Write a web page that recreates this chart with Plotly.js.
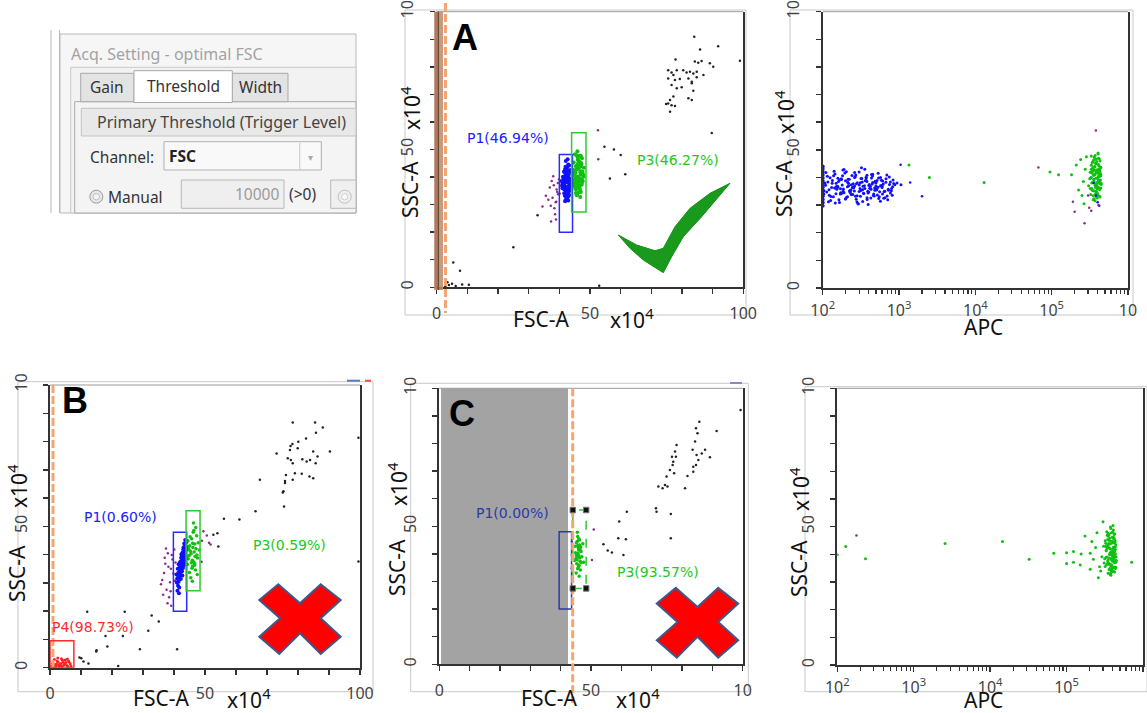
<!DOCTYPE html>
<html>
<head>
<meta charset="utf-8">
<script src="https://cdn.plot.ly/plotly-3.0.1.min.js"></script>
<style>html,body{margin:0;padding:0;background:#fff;}#chart{width:1147px;height:713px;}</style>
</head>
<body>
<div id="chart"></div>
<script>
// ===== Panel A: FSC-A vs SSC-A (x10^4), optimal FSC threshold =====
const aP1X = [42.1,43.0,41.6,42.8,43.5,42.4,41.9,43.2,42.7,41.3,43.8,42.0,42.9,41.7,43.4,42.5,41.1,43.1,42.2,43.7,41.5,42.6,43.3,42.3,41.8,43.6,42.9,41.4,42.0,43.0,42.6,41.9,43.9,42.4,41.2,43.2,42.7,41.6,43.5,42.1,42.8,41.0,43.3,42.5,41.7,43.8,42.2,43.0,41.5,42.9,43.6,42.3,41.8,43.1,42.6,40.8,43.4,42.0,41.3,42.7,
  41.4,42.2,43.1,41.8,42.6,43.5,41.1,42.0,42.9,43.8,41.6,42.4,43.3,40.9,41.9,42.7,43.6,41.3,42.3,43.2,41.7,42.5,43.9,41.0,42.1,43.0,41.5,42.8,43.4,42.0];
const aP1Y = [36.2,38.5,34.1,41.0,37.3,33.8,39.6,35.4,42.3,37.9,36.8,40.4,32.9,38.1,35.0,43.5,36.5,39.2,34.6,41.7,38.8,33.2,37.0,40.9,35.8,38.3,44.6,36.9,31.7,39.9,34.3,42.8,37.6,35.1,40.0,33.5,38.9,36.1,41.4,45.8,35.6,37.4,39.4,32.4,42.0,36.6,34.9,40.6,38.0,31.5,37.8,43.1,36.3,39.0,34.7,38.6,35.3,41.2,37.2,46.5,
  39.3,36.0,41.6,33.2,38.0,35.1,37.5,42.9,33.9,39.0,35.5,40.7,37.1,38.4,31.2,36.4,42.6,40.1,32.7,44.2,37.0,34.5,36.7,35.9,39.8,33.3,41.9,35.7,38.3,43.7];
const aP3X = [45.6,46.3,44.9,47.1,45.2,46.8,45.9,44.5,47.5,46.0,45.4,46.6,47.8,45.0,46.2,44.7,47.0,45.7,46.4,45.1,47.3,46.9,44.4,45.8,46.5,47.6,45.3,46.1,44.8,47.2,45.5,46.7,48.0,45.9,46.3,44.6,47.4,45.0,46.0,46.8,45.6,47.0,44.3,46.4,45.2,47.7,46.1,45.8,46.9,45.4,
  45.3,46.5,47.2,45.8,46.9,44.7,46.2,47.6,45.5,46.6,45.1,47.0,46.3,45.7,47.4,44.9,46.0,46.8,45.4,47.9];
const aP3Y = [40.2,43.1,37.8,45.0,39.5,41.8,36.4,42.6,38.9,47.2,35.5,44.3,40.8,38.1,46.1,41.2,34.6,42.9,39.0,48.3,37.2,43.8,40.5,33.9,45.6,38.5,41.5,44.9,36.9,42.1,39.8,35.8,43.4,49.4,40.0,38.3,46.8,42.4,37.5,32.8,44.0,39.3,41.0,47.6,36.1,40.7,43.0,38.7,45.3,34.2,
  42.4,38.3,44.6,36.2,40.9,45.3,34.4,41.9,48.0,36.8,39.2,47.7,44.0,33.4,38.0,41.4,46.3,35.0,43.9,40.2];
const aPurX = [38.2,39.1,37.5,39.6,38.8,36.9,39.9,38.4,37.8,40.2,39.3,38.0,36.4,39.5,38.6,37.2,35.6,39.0,38.9,40.1,52.6,52.7,37.3,34.5];
const aPurY = [37.0,35.5,38.6,33.8,30.9,36.2,39.2,28.7,32.5,36.8,34.6,40.3,31.8,37.8,26.5,29.6,33.2,31.0,24.6,34.0,57.0,46.5,23.9,29.3];
const aOtherX = [84.0,85.9,91.8,98.9,77.9,84.2,85.3,86.4,89.1,90.2,75.5,76.6,77.2,78.3,80.4,81.5,82.6,83.7,84.8,87.0,75.5,77.7,79.3,82.1,83.2,84.8,76.6,78.3,79.9,83.2,83.7,77.2,76.1,75.5,76.6,77.7,82.1,83.2,76.1,74.8,54.7,57.8,60.0,61.5,56.5,89.7,32.9,25.0,7.6,5.4,53.0,4.0,6.2,8.3,10.5,3.5,2.8,5.0];
const aOtherY = [90.9,86.3,87.5,82.2,82.7,81.9,81.5,82.1,81.3,80.0,78.8,77.9,77.0,78.8,78.8,77.9,78.2,77.6,78.2,77.0,75.8,75.2,75.6,75.8,74.6,76.2,73.4,72.2,72.6,74.0,71.3,69.2,68.0,66.7,66.1,65.8,68.6,68.0,63.7,66.5,51.0,50.0,48.0,41.0,39.5,56.0,26.1,14.5,6.0,9.0,0.6,0.8,0.5,1.0,0.9,1.8,0.4,1.3];
const aGateP1 = [40.0, 44.3, 20.0, 48.2];   // x0, x1, y0, y1
const aGateP3 = [44.0, 48.7, 27.3, 56.1];
const aLabels = ['P1(46.94%)', 'P3(46.27%)'];

// ===== Panel A, right: APC vs SSC-A =====
const apcABlueX = [104,117,128,139,151,163,176,190,204,219,236,252,271,290,311,333,356,381,407,436,466,498,533,570,610,652,698,746,798,853,
  110,122,133,146,158,171,184,198,213,229,244,262,281,301,322,345,369,394,421,451,482,515,551,590,631,675,722,772,825,940,
  1060,143,260,380,
  158,176,199,224,251,283,318,357,402,452,508,571,166,187,211,237,267,300,338,380,427,480,540,607,150,182,230,275,330,390,445,520,600,172,215,262,312,370,430,495,
  103,109,115,121,127,134,141,149,157,166,175,185,195,206,217,229,242,255,269,284,300,316,334,352,372,392,414,437,461,487,514,542,572,604,638,673,711,750,792,836,
  107,113,119,125,131,138,145,153,161,170,180,190,200,211,223,235,248,262,277,292,308,325,343,362,382,403,425,449,474,500,528,557,588,621,655,692,730,771,814,880];
const apcABlueY = [35.2,38.4,33.1,40.6,36.7,31.9,39.3,34.5,42.1,37.0,33.8,36.3,40.9,30.6,38.1,35.6,43.0,32.7,37.5,39.8,34.0,36.9,41.5,31.4,38.7,35.0,33.3,40.2,36.0,37.8,
  41.8,33.6,37.9,30.8,39.7,35.9,42.7,32.2,38.3,34.8,36.4,40.0,31.1,37.3,43.5,34.2,39.1,30.2,36.8,41.2,35.4,38.9,33.0,37.1,32.5,39.5,35.7,34.4,36.6,38.0,
  37.4,36.2,35.1,40.8,
  36.5,34.2,38.8,35.1,37.7,33.4,39.6,36.0,34.7,38.2,35.5,37.0,39.1,35.8,33.0,37.4,40.3,34.9,36.8,38.5,32.6,36.2,39.8,34.0,37.9,40.6,35.4,32.1,38.4,35.0,37.6,33.7,36.4,34.5,39.4,36.9,33.2,40.1,35.7,38.0,
  33.9,37.2,40.4,35.6,31.7,38.9,42.3,34.1,36.8,30.9,39.5,35.0,41.6,32.8,37.9,34.6,40.7,36.3,33.2,38.1,42.0,35.3,31.3,37.0,39.8,34.4,36.1,41.1,33.5,38.6,35.8,32.4,40.0,36.9,34.9,38.3,31.9,37.5,35.2,39.1,
  38.0,34.7,31.2,39.9,36.4,33.0,41.3,35.7,38.5,34.0,37.3,42.9,32.3,36.6,39.4,35.5,33.8,41.8,37.7,30.4,36.0,39.6,34.3,38.8,32.0,37.1,35.9,40.5,33.3,38.2,36.5,34.8,39.0,37.6,32.7,40.9,35.4,38.4,33.6,37.4];
const apcAEdgeX = [100,100,100,100,100,100,100,100,100,100,100,100,100,100];
const apcAEdgeY = [29.8,30.9,32.0,33.2,34.3,35.4,36.5,37.6,38.7,39.8,40.9,42.0,43.1,44.0];
const apcAGreenX = [3.3e5,3.5e5,3.7e5,3.9e5,4.1e5,4.3e5,3.4e5,3.6e5,3.8e5,4.0e5,4.2e5,4.4e5,3.25e5,3.45e5,3.65e5,3.85e5,4.05e5,4.25e5,3.55e5,3.75e5,3.95e5,4.15e5,4.35e5,3.35e5,3.6e5,3.8e5,4.0e5,4.2e5,3.7e5,3.9e5,4.1e5,3.5e5,4.45e5,3.15e5,4.3e5,3.65e5,3.85e5,4.05e5,3.4e5,4.2e5,
  3.05e5,3.55e5,3.75e5,3.95e5,4.15e5,3.3e5,3.6e5,3.9e5,4.1e5,4.4e5,3.45e5,3.8e5,4.0e5,3.7e5,4.25e5,3.5e5,3.85e5,4.35e5,3.2e5,4.05e5,
  3.2e5,3.4e5,3.6e5,3.8e5,4.0e5,4.2e5,4.4e5,3.3e5,3.5e5,3.7e5,3.9e5,4.1e5,4.3e5,3.25e5,3.55e5,3.85e5,4.15e5,4.45e5,3.45e5,3.75e5,4.05e5,4.35e5,3.35e5,3.65e5,3.95e5,4.25e5,3.5e5,3.8e5,4.1e5,4.4e5,3.4e5,3.7e5,4.0e5,4.3e5,3.6e5,3.9e5,4.2e5,3.3e5,3.8e5,4.1e5,
  1350,2500,13000,95000,123000,182000,210000,240000,260000,225000,275000,250000,285000,265000];
const apcAGreenY = [40.1,43.6,37.2,45.8,38.9,42.0,35.4,47.3,39.7,36.6,44.1,41.2,33.8,38.3,42.7,34.9,48.5,37.8,40.8,45.2,32.6,43.0,39.1,36.0,46.4,41.7,34.2,38.6,43.9,36.9,40.4,31.9,37.5,39.5,46.0,35.1,42.3,44.7,41.5,33.3,
  37.0,39.4,34.0,42.8,36.3,44.4,32.3,38.1,47.0,40.6,45.7,36.7,39.9,48.0,35.6,42.5,33.1,43.4,41.9,38.4,
  36.0,42.2,38.7,45.0,33.6,40.3,43.7,47.8,35.2,41.1,37.4,44.6,32.9,39.8,46.2,34.7,41.6,37.9,43.3,36.4,48.9,40.8,38.0,44.0,35.9,42.7,33.4,46.7,39.2,36.2,45.3,31.6,42.0,38.9,40.9,34.4,46.8,43.0,37.6,41.4,
  44.5,40.0,38.2,42.0,41.0,41.0,44.5,46.5,38.5,35.5,43.0,33.5,47.5,30.5];
const apcABlueOutX = [1400,2000,1050,380000,400000,355000,420000];
const apcABlueOutY = [38.2,33.2,44.6,33.5,31.0,38.0,29.8];
const apcAPurX = [67000,190000,200000,270000,380000,310000,330000,300000,410000];
const apcAPurY = [43.6,31.2,27.6,23.4,57.0,29.0,28.0,33.5,30.0];

// ===== Panel B: threshold too low =====
const bP1X = [41.0,41.6,42.1,42.7,43.2,41.3,41.9,42.4,43.0,43.6,40.8,41.5,42.0,42.6,43.3,43.9,41.2,41.8,42.3,42.9,43.5,44.0,40.9,41.4,42.2,42.8,43.4,41.7,42.5,43.1,43.7,41.1,42.0,42.6,43.2,43.8,41.5,42.3,43.0,42.7,41.3,42.1,42.9,43.6,41.9,42.4,43.3,41.6,42.8,43.5];
const bP1Y = [31.5,35.2,33.8,38.4,41.0,29.0,37.1,36.0,39.6,43.2,33.0,30.4,35.9,34.1,37.8,41.7,35.0,32.3,38.9,36.7,40.2,44.5,30.1,33.6,31.4,40.8,38.6,28.4,37.3,42.6,39.4,27.2,33.0,39.8,36.2,42.3,36.6,34.7,41.9,32.6,31.9,37.6,35.3,45.2,34.4,40.1,43.9,26.3,38.0,36.9];
const bP3X = [44.6,45.3,46.0,46.7,47.4,45.0,45.7,46.4,47.1,44.3,45.5,46.2,46.9,47.8,44.8,45.9,46.6,47.3,45.1,45.8,46.5,47.6,44.5,45.4,46.1,46.8,47.0,45.6,46.3,44.9,47.5,45.2,46.0,46.7,48.2,44.7,45.9,46.4];
const bP3Y = [38.5,41.2,35.9,43.8,39.9,33.7,45.6,37.4,42.1,36.5,40.3,47.9,34.6,44.2,41.8,38.0,36.2,46.7,43.1,35.2,40.9,38.8,44.9,31.8,42.5,39.3,49.6,37.1,51.2,39.7,33.0,46.3,44.0,36.8,41.6,42.8,30.6,48.5];
const bPurX = [38.0,37.2,39.5,36.8,38.7,40.1,37.6,39.0,36.2,38.4,40.5,37.9,39.8,35.8,38.9,37.0,39.3,36.5,38.2,40.3,37.4,39.1,49.5,50.6,51.3,49.0,51.8,48.9];
const bPurY = [40.5,36.8,38.3,33.5,30.2,41.8,27.6,35.0,31.0,24.9,37.2,22.8,33.3,29.5,27.0,38.9,39.9,25.8,35.7,30.8,42.2,21.9,48.3,46.8,44.2,44.9,43.6,37.5];
const bP4X = [0.5,1.2,1.9,2.6,3.3,4.0,4.7,5.4,6.1,6.8,0.9,1.6,2.3,3.0,3.7,4.4,5.1,5.8,6.5,1.4,2.8,3.5,4.9,5.6,2.0,3.9,1.0,6.0,4.2,2.5];
const bP4Y = [0.4,1.1,0.7,1.9,0.5,2.6,1.3,0.8,2.1,0.6,1.6,0.3,2.4,1.0,3.2,0.9,1.8,0.4,1.4,2.9,0.6,1.5,2.7,3.1,1.2,0.5,0.9,2.4,1.9,3.4];
const bOtherX = [78.3,85.5,88.0,85.8,82.6,80.1,78.2,77.6,79.9,73.1,77.4,76.7,77.7,78.3,81.4,82.8,83.9,86.3,90.3,84.9,85.7,76.1,79.0,75.8,81.2,83.7,84.9,75.3,75.8,75.1,78.3,67.7,75.5,99.5,99.5,56.1,61.1,66.3,54.0,54.3,52.7,32.8,31.7,35.1,24.1,12.0,17.9,18.5,15.0,29.0,41.0,22.0,12.4,9.5,23.5,10.1,10.8,14.9];
const bOtherY = [86.7,86.7,85.0,83.1,81.1,79.9,79.1,78.4,77.6,75.8,77.0,74.1,73.5,72.3,73.7,72.9,73.5,74.7,76.5,76.5,72.3,68.2,68.8,66.0,68.6,67.6,67.0,62.4,65.3,62.0,66.5,66.5,57.0,81.3,37.6,52.7,52.4,55.3,47.6,42.9,47.0,18.5,13.1,16.3,19.8,19.8,11.2,7.5,6.2,6.5,6.5,0.6,1.5,3.6,11.2,3.3,2.2,5.7];
const bGateP1 = [39.8, 44.1, 20.0, 47.9];
const bGateP3 = [43.9, 48.4, 27.2, 55.5];
const bGateP4 = [0.0, 7.7, 0.0, 9.5];
const bLabels = ['P1(0.60%)', 'P3(0.59%)', 'P4(98.73%)'];

// ===== Panel C: threshold too high =====
const cP3X = [45.2,45.8,46.4,45.5,46.1,46.7,45.0,45.6,46.2,47.0,45.3,45.9,46.5,44.8,45.4,46.0,46.8,45.1,45.7,46.3,47.3,45.5,46.1,44.9,45.8,46.6,45.2,46.0,47.6,45.6,46.4,45.3,45.9,46.2,44.6,45.7];
const cP3Y = [39.5,42.1,37.3,44.6,35.8,40.9,38.2,46.3,43.2,39.0,36.4,41.4,34.2,42.8,37.9,45.5,36.9,33.1,40.2,38.6,43.7,47.8,31.9,40.4,35.1,42.5,44.0,39.3,37.0,34.6,41.9,38.9,36.0,45.0,37.6,43.0];
const cBlueX = [43.7,43.7,43.7];
const cBlueY = [44.4,39.6,34.8];
const cPurX = [50.9,50.3];
const cPurY = [48.8,37.8];
const cOtherX = [99.3,91.4,85.7,84.6,85.1,84.3,83.5,84.8,86.5,85.4,84.6,83.7,81.8,83.7,89.2,87.6,77.7,78.0,77.1,76.9,76.0,77.4,76.7,78.2,74.9,74.4,73.6,75.2,72.2,81.0,76.3,71.4,71.6,76.3,61.8,59.3,59.0,61.5,54.1,55.5,56.9,60.7];
const cOtherY = [92.1,84.5,87.9,85.5,83.7,80.7,77.7,75.8,76.4,74.0,72.2,71.6,68.2,69.8,75.0,77.7,77.1,75.2,73.4,72.2,70.4,69.2,75.2,79.5,68.0,65.0,63.8,64.4,64.4,63.8,54.5,56.5,55.3,45.7,55.3,51.7,45.7,45.3,43.5,41.2,40.5,39.6];
const cGateP1 = [39.5, 43.6, 20.0, 48.0];
const cGateP3 = [44.0, 48.4, 27.5, 55.9];
const cLabels = ['P1(0.00%)', 'P3(93.57%)'];

// ===== Panel C, right: APC vs SSC-A =====
const apcCGreenX = [3.3e5,3.5e5,3.7e5,3.9e5,4.1e5,4.3e5,3.4e5,3.6e5,3.8e5,4.0e5,4.2e5,4.4e5,3.2e5,3.45e5,3.65e5,3.85e5,4.05e5,4.25e5,3.55e5,3.75e5,3.95e5,4.15e5,4.35e5,3.05e5,3.6e5,3.8e5,4.0e5,4.2e5,2.9e5,3.9e5,4.1e5,3.5e5,4.5e5,3.15e5,4.3e5,3.65e5,3.85e5,4.05e5,3.35e5,4.2e5,2.8e5,3.7e5,4.0e5,3.25e5,4.4e5,
  3.4e5,3.6e5,3.8e5,4.0e5,4.2e5,3.5e5,3.7e5,3.9e5,4.1e5,4.3e5,3.45e5,3.75e5,3.95e5,4.15e5,3.3e5,3.55e5,3.85e5,4.05e5,4.25e5,3.65e5,3.95e5,4.35e5,3.1e5,3.8e5,4.1e5,
  3.25e5,3.45e5,3.65e5,3.85e5,4.05e5,4.25e5,4.45e5,3.35e5,3.55e5,3.75e5,3.95e5,4.15e5,4.35e5,3.2e5,3.5e5,3.8e5,4.1e5,4.4e5,3.4e5,3.7e5,4.0e5,4.3e5,3.3e5,3.6e5,3.9e5,4.2e5,3.45e5,3.75e5,4.05e5,4.35e5,3.55e5,3.85e5,4.15e5,3.65e5,3.95e5,4.25e5,3.35e5,3.75e5,4.0e5,4.2e5,
  68000,100000,123000,100000,123000,155000,174000,214000,204000,224000,151000,204000,250000,300000,710000,100,129,234,2570,14500,32400,260000,270000,240000];
const apcCGreenY = [41.3,38.0,44.8,36.2,42.6,39.4,46.9,34.5,40.7,48.1,37.3,43.5,35.6,45.4,39.9,33.4,41.8,37.0,43.9,32.7,46.2,38.8,40.2,42.9,36.7,49.3,35.0,44.2,39.1,41.0,33.9,47.6,37.8,38.4,45.0,42.2,36.1,39.6,43.1,47.2,34.0,40.5,37.5,44.0,35.3,
  39.0,42.4,35.8,44.1,38.2,46.6,40.0,34.3,42.0,37.2,43.0,33.0,39.7,45.6,41.6,36.4,47.8,35.2,40.9,38.7,44.7,42.7,36.9,32.4,48.8,
  42.8,37.6,45.9,34.1,40.6,47.4,39.0,36.3,43.6,49.9,38.5,35.4,41.7,44.9,33.2,40.1,46.3,37.1,42.3,35.0,39.3,44.4,38.9,47.1,33.8,41.2,36.8,43.8,50.4,34.9,45.2,38.1,42.5,36.5,40.4,33.6,48.2,41.9,37.8,45.7,
  40.4,40.6,41.0,36.7,37.1,40.1,46.6,44.6,40.4,38.2,36.1,34.6,47.8,51.8,37.1,39.8,42.8,38.4,43.9,44.6,38.2,31.5,35.5,42.5];
const apcCPurX = [178];
const apcCPurY = [46.8];

// ---- axis tick text ----
const linMajorVals = [0, 50, 100];
const linMinorVals = [10, 20, 30, 40, 60, 70, 80, 90];
const xTicksFull = ['0', '50', '100'];
const xTicksCut = ['0', '50', '10'];
const yTicks = ['0', '50', '10'];
const logTickVals = [1e2, 1e3, 1e4, 1e5, 1e6];
const logTickText = ['10<sup>2</sup>', '10<sup>3</sup>', '10<sup>4</sup>', '10<sup>5</sup>', '10'];

// ---- pixel helpers (figure has zero margins, so paper = page pixels) ----
const W = 1147, H = 713;
const px = x => x / W;
const py = y => 1 - y / H;
const dx = (a, b) => [a / W, b / W];
const dy = (top, bottom) => [1 - bottom / H, 1 - top / H];

function rectPx(x0, y0, x1, y1, line, fill, layer) {
  return {type:'rect', xref:'paper', yref:'paper', x0:px(x0), x1:px(x1), y0:py(y1), y1:py(y0),
    line: line || {width:0}, fillcolor: fill || 'rgba(0,0,0,0)', layer: layer || 'above'};
}
function linePx(x0, y0, x1, y1, line, layer) {
  return {type:'line', xref:'paper', yref:'paper', x0:px(x0), x1:px(x1), y0:py(y0), y1:py(y1), line, layer: layer || 'above'};
}
function circlePx(cx, cy, r, line, fill) {
  return {type:'circle', xref:'paper', yref:'paper', x0:px(cx - r), x1:px(cx + r), y0:py(cy + r), y1:py(cy - r), line, fillcolor: fill};
}
function polyPx(pts, line, fill) {
  const d = 'M' + pts.map(p => px(p[0]).toFixed(5) + ',' + py(p[1]).toFixed(5)).join('L') + 'Z';
  return {type:'path', xref:'paper', yref:'paper', path:d, line, fillcolor: fill};
}
function textPx(x, y, text, font, xanchor, angle) {
  return {xref:'paper', yref:'paper', x:px(x), y:py(y), text, showarrow:false, font,
    xanchor: xanchor || 'center', yanchor:'middle', textangle: angle || 0};
}
function gateRect(g, xa, ya, color, dash) {
  return {type:'rect', xref:xa, yref:ya, x0:g[0], x1:g[1], y0:g[2], y1:g[3],
    line:{color, width:1.5, dash: dash || 'solid'}, fillcolor:'rgba(0,0,0,0)'};
}

// ---- axes ----
const tickStyle = {ticks:'outside', ticklen:5, tickwidth:1.5, tickcolor:'#333'};
const axisCommon = Object.assign({fixedrange:true, showgrid:false, zeroline:false, showline:true, linecolor:'#333', linewidth:2,
  tickfont:{size:16, color:'#444', family:'Noto Sans'}}, tickStyle);
function linX(domain, anchor, text) {
  return Object.assign({}, axisCommon, {domain, anchor, range:[0,100], tickmode:'array', tickvals:linMajorVals, ticktext:text,
    ticklabelstandoff:5, minor:Object.assign({tickvals:linMinorVals}, tickStyle)});
}
function linY(domain, anchor) {
  return Object.assign({}, axisCommon, {domain, anchor, range:[0,100], mirror:true, tickmode:'array', tickvals:linMajorVals, ticktext:yTicks,
    tickangle:-90, ticklabelstandoff:10, minor:Object.assign({tickvals:linMinorVals}, tickStyle)});
}
const minorLog = [];
for (let d = 2; d < 6; d++) for (let m = 2; m <= 9; m++) minorLog.push(m * Math.pow(10, d));
function logX(domain, anchor) {
  return Object.assign({}, axisCommon, {domain, anchor, type:'log', range:[2,6], tickmode:'array', tickvals:logTickVals, ticktext:logTickText,
    ticklabelstandoff:2, minor:{tickvals:minorLog, ticks:'outside', ticklen:4, tickwidth:1.2, tickcolor:'#333'}});
}

// ---- traces ----
function pts(x, y, xa, ya, color, size) {
  return {type:'scatter', mode:'markers', x, y, xaxis:xa, yaxis:ya, hoverinfo:'skip', showlegend:false,
    marker:{color, size, line:{width:0}}};
}
const BLUE = '#1010ff', GREEN = '#10c010', PURPLE = '#8a2a8a', BLACK = '#222', RED = '#ff2020';
const data = [
  pts(aOtherX, aOtherY, 'x', 'y', BLACK, 2.5),
  pts(aPurX, aPurY, 'x', 'y', PURPLE, 2.5),
  pts(aP1X, aP1Y, 'x', 'y', BLUE, 4),
  pts(aP3X, aP3Y, 'x', 'y', GREEN, 4),
  pts(apcABlueX, apcABlueY, 'x2', 'y2', BLUE, 3),
  pts(apcAEdgeX, apcAEdgeY, 'x2', 'y2', BLUE, 4),
  pts(apcAGreenX, apcAGreenY, 'x2', 'y2', GREEN, 3),
  pts(apcABlueOutX, apcABlueOutY, 'x2', 'y2', BLUE, 2.5),
  pts(apcAPurX, apcAPurY, 'x2', 'y2', PURPLE, 2.5),
  pts(bOtherX, bOtherY, 'x3', 'y3', BLACK, 2.5),
  pts(bPurX, bPurY, 'x3', 'y3', PURPLE, 2.5),
  pts(bP1X, bP1Y, 'x3', 'y3', BLUE, 4),
  pts(bP3X, bP3Y, 'x3', 'y3', GREEN, 3.5),
  pts(bP4X, bP4Y, 'x3', 'y3', RED, 3),
  pts(cOtherX, cOtherY, 'x4', 'y4', BLACK, 2.5),
  pts(cPurX, cPurY, 'x4', 'y4', PURPLE, 2.5),
  pts(cBlueX, cBlueY, 'x4', 'y4', BLUE, 2.5),
  pts(cP3X, cP3Y, 'x4', 'y4', GREEN, 3.5),
  pts(apcCGreenX, apcCGreenY, 'x5', 'y5', GREEN, 3),
  pts(apcCPurX, apcCPurY, 'x5', 'y5', PURPLE, 2.5)
];

// ---- shapes ----
const frame = {color:'#c8c8c8', width:1};
const topLine = {color:'#9a9a9a', width:1};
const orangeDash = {color:'#f4a672', width:3, dash:'8px,3px'};
const shapes = [
  // panel borders
  rectPx(405, 10, 746, 315, frame, null, 'below'),
  rectPx(790, 10, 1133, 315, frame, null, 'below'),
  rectPx(18, 381.7, 373, 691.7, frame, null, 'below'),
  rectPx(410.7, 383.3, 748.3, 691.7, frame, null, 'below'),
  rectPx(805, 386.7, 1147, 691.7, frame, null, 'below'),
  // C: excluded region below threshold
  rectPx(441, 388.3, 568, 664.3, {width:0}, '#a3a3a3', 'below'),
  // thin top edges of plot boxes
  linePx(436.7, 11.7, 743.3, 11.7, topLine),
  linePx(822.7, 11.7, 1128, 11.7, topLine),
  linePx(50, 385, 360, 385, topLine),
  linePx(439.3, 388.3, 742.7, 388.3, topLine),
  linePx(837.3, 388.3, 1143, 388.3, topLine),
  // A: threshold marker strip and line
  rectPx(434, 11.7, 443, 290, {width:0}, 'rgba(188,138,108,0.85)'),
  linePx(438.3, 11.7, 438.3, 290, {color:'#6e4630', width:1.5}),
  linePx(445.5, 3, 445.5, 313, orangeDash),
  // B threshold line
  linePx(53, 385, 53, 667.7, orangeDash),
  // gates
  gateRect(aGateP1, 'x', 'y', '#2a2aff'),
  gateRect(aGateP3, 'x', 'y', '#30c830'),
  gateRect(bGateP1, 'x3', 'y3', '#2a2aff'),
  gateRect(bGateP3, 'x3', 'y3', '#30c830'),
  gateRect(bGateP4, 'x3', 'y3', '#ff2a2a'),
  gateRect(cGateP1, 'x4', 'y4', '#2b3aa8'),
  gateRect(cGateP3, 'x4', 'y4', '#30c830', 'dash'),
  // C threshold line
  linePx(572.7, 388.3, 572.7, 703, orangeDash),
  // small marks above B / C
  linePx(347, 380.7, 360, 380.7, {color:'#5a78c0', width:2}),
  linePx(365, 380.7, 371, 380.7, {color:'#ff4a4a', width:2}),
  linePx(730, 383, 742, 383, {color:'#7f90c0', width:2}),
  // check mark in A
  polyPx([[618.3,235],[636.7,245],[655,250.7],[663.3,248.3],[675,226.7],[690,208.3],[710,193.3],[730,183.3],
          [701.7,216.7],[683.3,236.7],[671.7,256.7],[663.3,272.7],[643.3,260],[630,248.3]],
         {color:'#17901a', width:1}, '#1a9a1c')
];
// gate handles on the C P3 gate
[[cGateP3[0], cGateP3[3]], [cGateP3[1], cGateP3[3]], [cGateP3[0], cGateP3[2]], [cGateP3[1], cGateP3[2]]].forEach(c => {
  shapes.push({type:'rect', xref:'x4', yref:'y4', x0:c[0] - 0.9, x1:c[0] + 0.9, y0:c[1] - 1.0, y1:c[1] + 1.0,
    line:{color:'#777', width:1}, fillcolor:'#111'});
});
// red crosses in B and C
function crossPts(cx, cy) {
  return [[-40.7,-19.2],[-21.7,-34.9],[0,-15.9],[20.7,-34.9],[40.7,-19.2],[20.7,-0.9],
          [40.7,17.5],[20.7,34.8],[0,14.1],[-20.7,34.8],[-40.7,17.5],[-20,-0.9]].map(p => [cx + p[0], cy + p[1]]);
}
shapes.push(polyPx(crossPts(300, 619.2), {color:'#3b5a8c', width:2}, '#ff0000'));
shapes.push(polyPx(crossPts(697.5, 622.8), {color:'#3b5a8c', width:2}, '#ff0000'));

// ---- acquisition setting dialog ----
const dlgLine = {color:'#b9b9b9', width:1};
shapes.push(
  linePx(51, 30, 51, 213, dlgLine),
  linePx(59.5, 30, 59.5, 213, dlgLine),
  rectPx(60, 34, 356, 213, dlgLine, '#f6f6f6'),
  rectPx(70.7, 67.3, 356, 213, {color:'#c8c8c8', width:1}, '#f2f2f2'),
  rectPx(74.7, 101.7, 356, 213, {color:'#a9a9a9', width:1}, '#f4f4f4'),
  rectPx(80.7, 73.3, 134, 101.7, {color:'#a9a9a9', width:1}, '#e3e3e3'),
  rectPx(232.3, 73.3, 288, 101.7, {color:'#a9a9a9', width:1}, '#e3e3e3'),
  rectPx(134, 70.7, 232.3, 102.5, {color:'#a9a9a9', width:1}, '#ffffff'),
  rectPx(81.3, 108.3, 356, 136, {color:'#c4c4c4', width:1}, '#e8e8e8'),
  rectPx(164, 141.7, 321.3, 170, {color:'#b0b0b0', width:1}, '#f9f9f9'),
  linePx(299.7, 143, 299.7, 169, {color:'#c8c8c8', width:1}),
  rectPx(181.3, 180, 284, 208.3, {color:'#b8b8b8', width:1}, '#efefef'),
  rectPx(330.7, 180, 356, 208.3, {color:'#b8b8b8', width:1}, '#efefef'),
  circlePx(96.3, 196.7, 6.5, {color:'#9a9a9a', width:1}, '#e6e6e6'),
  circlePx(96.3, 196.7, 3.2, {color:'#c0c0c0', width:1}, '#f4f4f4'),
  circlePx(344.7, 196.7, 6.5, {color:'#c0c0c0', width:1}, '#f0f0f0'),
  circlePx(344.7, 196.7, 3.2, {color:'#d0d0d0', width:1}, '#f8f8f8')
);

// ---- annotations ----
const dlgFont = {family:'Noto Sans', size:15.5, color:'#333'};
const titleFont = {family:'Noto Sans', size:21, color:'#111'};
const letterFont = {family:'Liberation Sans', size:36, color:'#000', weight:'bold'};
const gateFont = c => ({family:'DejaVu Sans', size:14, color:c});
const annotations = [
  // dialog text
  textPx(69, 54, 'Acq. Setting - optimal FSC', {family:'Noto Sans', size:16, color:'#a3a3a3'}, 'left'),
  textPx(107.3, 87.5, 'Gain', dlgFont),
  textPx(183, 86.5, 'Threshold', dlgFont),
  textPx(260, 87.5, 'Width', dlgFont),
  textPx(95, 122, 'Primary Threshold (Trigger Level)', {family:'Noto Sans', size:16, color:'#444'}, 'left'),
  textPx(87.5, 156.5, 'Channel:', dlgFont, 'left'),
  textPx(167, 156, '<b>FSC</b>', {family:'Noto Sans', size:15.5, color:'#222'}, 'left'),
  textPx(310.5, 157, '▾', {family:'DejaVu Sans', size:10, color:'#aaa'}),
  textPx(106, 197, 'Manual', dlgFont, 'left'),
  textPx(281, 194.5, '10000', {family:'Noto Sans', size:15.5, color:'#9a9a9a'}, 'right'),
  textPx(286.5, 194.5, '(&gt;0)', dlgFont, 'left'),
  // panel letters
  textPx(465, 38, 'A', letterFont),
  textPx(75, 400, 'B', letterFont),
  textPx(462.5, 413, 'C', letterFont),
  // axis titles
  textPx(410, 189, 'SSC-A', titleFont, 'center', -90),
  textPx(410, 108, 'x10<sup>4</sup>', titleFont, 'center', -90),
  textPx(541, 319, 'FSC-A', titleFont),
  textPx(632, 319, 'x10<sup>4</sup>', titleFont),
  textPx(784, 189, 'SSC-A', titleFont, 'center', -90),
  textPx(784, 112, 'x10<sup>4</sup>', titleFont, 'center', -90),
  textPx(983, 327, 'APC', titleFont),
  textPx(17, 574, 'SSC-A', titleFont, 'center', -90),
  textPx(17, 486, 'x10<sup>4</sup>', titleFont, 'center', -90),
  textPx(161, 698, 'FSC-A', titleFont),
  textPx(249, 698, 'x10<sup>4</sup>', titleFont),
  textPx(397, 568, 'SSC-A', titleFont, 'center', -90),
  textPx(397, 484, 'x10<sup>4</sup>', titleFont, 'center', -90),
  textPx(549, 698, 'FSC-A', titleFont),
  textPx(637.5, 698, 'x10<sup>4</sup>', titleFont),
  textPx(799, 569, 'SSC-A', titleFont, 'center', -90),
  textPx(799, 489, 'x10<sup>4</sup>', titleFont, 'center', -90),
  textPx(983, 700, 'APC', titleFont),
  // gate labels
  {xref:'x', yref:'y', x:23.3, y:54.2, text:aLabels[0], showarrow:false, font:gateFont('#2020ff')},
  {xref:'x', yref:'y', x:78.8, y:46.2, text:aLabels[1], showarrow:false, font:gateFont('#22c822')},
  {xref:'x3', yref:'y3', x:22.9, y:53.4, text:bLabels[0], showarrow:false, font:gateFont('#2020ff')},
  {xref:'x3', yref:'y3', x:77.4, y:43.4, text:bLabels[1], showarrow:false, font:gateFont('#22c822')},
  {xref:'x3', yref:'y3', x:14.0, y:14.3, text:bLabels[2], showarrow:false, font:gateFont('#ff2a2a')},
  {xref:'x4', yref:'y4', x:24.0, y:54.9, text:cLabels[0], showarrow:false, font:gateFont('#2b3aa8')},
  {xref:'x4', yref:'y4', x:72.2, y:33.6, text:cLabels[1], showarrow:false, font:gateFont('#22c822')}
];

const layout = {
  width: W, height: H, margin:{l:0, r:0, t:0, b:0},
  paper_bgcolor:'#ffffff', plot_bgcolor:'rgba(0,0,0,0)',
  font:{family:'Noto Sans', color:'#333'},
  showlegend:false,
  xaxis: linX(dx(436.7, 743.3), 'y', xTicksFull),
  yaxis: linY(dy(11.7, 287.3), 'x'),
  xaxis2: logX(dx(822.7, 1128), 'y2'),
  yaxis2: linY(dy(11.7, 288), 'x2'),
  xaxis3: linX(dx(50, 360), 'y3', xTicksFull),
  yaxis3: linY(dy(385, 667.7), 'x3'),
  xaxis4: linX(dx(439.3, 742.7), 'y4', xTicksCut),
  yaxis4: linY(dy(388.3, 664.3), 'x4'),
  xaxis5: logX(dx(837.3, 1143), 'y5'),
  yaxis5: linY(dy(388.3, 665), 'x5'),
  shapes, annotations
};

Plotly.newPlot('chart', data, layout, {staticPlot:true, displayModeBar:false});
</script>
</body>
</html>
